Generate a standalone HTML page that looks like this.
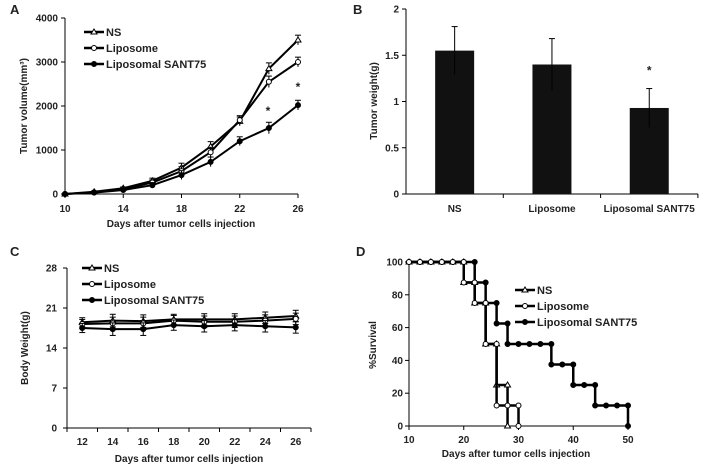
<!DOCTYPE html>
<html><head><meta charset="utf-8"><style>
body{margin:0;background:#fff;}
svg{display:block;font-family:"Liberation Sans",Arial,sans-serif;font-weight:bold;}
</style></head><body>
<svg id="s" width="701" height="467" viewBox="0 0 701 467"></svg>
<script>
// Panel A data
const aDays=[10,12,14,16,18,20,22,24,26];
const aNS=[0,50,130,300,600,1080,1650,2850,3500];
const aLipo=[0,40,110,260,520,950,1680,2550,3000];
const aSANT=[0,30,90,200,430,730,1200,1500,2020];
const aErr=[0,20,30,60,100,110,100,130,110];
const aTicksY=[0,1000,2000,3000,4000];
const aTicksX=[10,14,18,22,26];
// Panel B
const bCats=["NS","Liposome","Liposomal SANT75"];
const bVals=[1.55,1.40,0.93];
const bErr=[0.26,0.28,0.21];
const bTicksY=[0,0.5,1,1.5,2];
// Panel C
const cDays=[12,14,16,18,20,22,24,26];
const cNS=[18.5,18.8,18.7,19.0,19.0,19.0,19.3,19.6];
const cLipo=[18.2,18.3,18.3,18.8,18.6,18.6,18.8,19.1];
const cSANT=[17.5,17.3,17.3,18.0,17.8,18.0,17.8,17.6];
const cErr=[0.8,1.1,1.1,0.9,1.0,1.0,1.0,1.0];
const cTicksY=[0,7,14,21,28];
// Panel D
const dDays=[10,12,14,16,18,20,22,24,26,28,30,32,34,36,38,40,42,44,46,48,50];
const dNS=[100,100,100,100,100,87.5,75,50,25,0];
const dLipo=[100,100,100,100,100,87.5,75,50,12.5,12.5,0];
const dSANT=[100,100,100,100,100,100,87.5,75,62.5,50,50,50,50,37.5,37.5,25,25,12.5,12.5,12.5,0];
const dTicksY=[0,20,40,60,80,100];
const dTicksX=[10,20,30,40,50];

const S=document.getElementById('s');const NS='http://www.w3.org/2000/svg';
function el(t,a,name,txt){const e=document.createElementNS(NS,t);for(const k in a)e.setAttribute(k,a[k]);


if(txt!==undefined)e.textContent=txt;S.appendChild(e);return e;}
function line(x1,y1,x2,y2,n,w){return el('line',{x1,y1,x2,y2,stroke:'#000','stroke-width':w||1},n);}
function text(x,y,s,n,o){o=o||{};return el('text',Object.assign({x,y,'font-size':o.fs||10,'text-anchor':o.a||'middle',fill:'#222'},o.extra||{}),n,s);}
function marker(x,y,type,n){
 if(type==='tri')return el('path',{d:`M${x},${y-3}L${x+3},${y+2}L${x-3},${y+2}Z`,fill:'#fff',stroke:'#000','stroke-width':1},n);
 return el('circle',{cx:x,cy:y,r:2.5,fill:type==='open'?'#fff':'#000',stroke:'#000','stroke-width':1},n);}
function poly(pts,n,w){return el('polyline',{points:pts.map(p=>p.join(',')).join(' '),fill:'none',stroke:'#000','stroke-width':w||2},n);}
function legend(x,y,dy,n){const items=[['NS','tri'],['Liposome','open'],['Liposomal SANT75','fill']];
 items.forEach((it,i)=>{const yy=y+i*dy;line(x,yy,x+20,yy,'legend-line-'+i,2.5);marker(x+10,yy,it[1],'legend-marker-'+i);
 text(x+22,yy+4,it[0],'legend-label-'+i,{a:'start',fs:11});});}

// ---- Panel A
{const X=d=>65+(d-10)*(233/16),Y=v=>194-v*(176/4000);
text(10,14,'A','panel-a-label',{fs:13,a:'start'});
line(65,18,65,194,'a-y-axis');line(65,194,298,194,'a-x-axis');
aTicksY.forEach(v=>{line(61,Y(v),65,Y(v),'a-y-tick');text(58,Y(v)+3.5,v,'a-y-tick-label',{a:'end'});});
aTicksX.forEach(v=>{line(X(v),194,X(v),198,'a-x-tick');text(X(v),212,v,'a-x-tick-label');});
text(181,227,'Days after tumor cells injection','a-x-axis-title');
el('text',{x:0,y:0,transform:'translate(27,106) rotate(-90)','font-size':10,'text-anchor':'middle',fill:'#222'},'a-y-axis-title','Tumor volume(mm³)');
[[aNS,'tri'],[aLipo,'open'],[aSANT,'fill']].forEach((s,si)=>{
 s[0].forEach((v,i)=>{const x=X(aDays[i]);line(x,Y(v+aErr[i]),x,Y(v-aErr[i]),'a-error-bar');line(x-3,Y(v+aErr[i]),x+3,Y(v+aErr[i]),'a-error-cap');});
 poly(s[0].map((v,i)=>[X(aDays[i]),Y(v)]),'a-series-'+si);
 s[0].forEach((v,i)=>marker(X(aDays[i]),Y(v),s[1],'a-point'));});
text(268,115,'*','a-sig-star',{fs:12});text(298,91,'*','a-sig-star',{fs:12});
legend(84,32,16,'a-legend');}

// ---- Panel B
{const bw=97.3,Y=v=>194-v*92.5;
text(353,14,'B','panel-b-label',{fs:13,a:'start'});
line(406,9,406,194,'b-y-axis');line(406,194,698,194,'b-x-axis');
bTicksY.forEach(v=>{line(402,Y(v),406,Y(v),'b-y-tick');text(399,Y(v)+3.5,v,'b-y-tick-label',{a:'end'});});
bCats.forEach((c,i)=>{const cx=406+bw*(i+0.5);line(406+bw*(i+1),194,406+bw*(i+1),198,'b-x-tick');
 el('rect',{x:cx-19.5,y:Y(bVals[i]),width:39,height:194-Y(bVals[i]),fill:'#111'},'bar-'+i);
 line(cx,Y(bVals[i]+bErr[i]),cx,Y(bVals[i]-bErr[i]),'b-error-bar');line(cx-3,Y(bVals[i]+bErr[i]),cx+3,Y(bVals[i]+bErr[i]),'b-error-cap');
 text(cx,212,c,'b-x-tick-label');});
text(406+bw*2.5,Y(bVals[2]+bErr[2])-14,'*','b-sig-star',{fs:12});
el('text',{x:0,y:0,transform:'translate(377,101) rotate(-90)','font-size':10,'text-anchor':'middle',fill:'#222'},'b-y-axis-title','Tumor weight(g)');}

// ---- Panel C
{const cw=30.5,X=i=>67+cw*(i+0.5),Y=v=>428-v*(160/28);
text(10,256,'C','panel-c-label',{fs:13,a:'start'});
line(67,268,67,428,'c-y-axis');line(67,428,311,428,'c-x-axis');
cTicksY.forEach(v=>{line(63,Y(v),67,Y(v),'c-y-tick');text(57,Y(v)+3.5,v,'c-y-tick-label',{a:'end'});});
for(let i=0;i<=cDays.length;i++)line(67+cw*i,428,67+cw*i,432,'c-x-tick');
cDays.forEach((d,i)=>text(X(i),445,d,'c-x-tick-label'));
text(189,462,'Days after tumor cells injection','c-x-axis-title');
el('text',{x:0,y:0,transform:'translate(28,348) rotate(-90)','font-size':10,'text-anchor':'middle',fill:'#222'},'c-y-axis-title','Body Weight(g)');
[[cNS,'tri'],[cLipo,'open'],[cSANT,'fill']].forEach((s,si)=>{
 s[0].forEach((v,i)=>{const x=X(i);line(x,Y(v+cErr[i]),x,Y(v-cErr[i]),'c-error-bar');line(x-3,Y(v+cErr[i]),x+3,Y(v+cErr[i]),'c-error-cap');line(x-3,Y(v-cErr[i]),x+3,Y(v-cErr[i]),'c-error-cap');});
 poly(s[0].map((v,i)=>[X(i),Y(v)]),'c-series-'+si);
 s[0].forEach((v,i)=>marker(X(i),Y(v),s[1],'c-point'));});
legend(82,268,16,'c-legend');}

// ---- Panel D
{const X=d=>409+(d-10)*(219/40),Y=v=>426-v*1.64;
text(356,256,'D','panel-d-label',{fs:13,a:'start'});
line(409,262,409,426,'d-y-axis');line(409,426,630,426,'d-x-axis');
dTicksY.forEach(v=>{line(405,Y(v),409,Y(v),'d-y-tick');text(403,Y(v)+3.5,v,'d-y-tick-label',{a:'end'});});
dTicksX.forEach(v=>{line(X(v),426,X(v),430,'d-x-tick');text(X(v),443,v,'d-x-tick-label');});
text(516,457,'Days after tumor cells injection','d-x-axis-title');
el('text',{x:0,y:0,transform:'translate(376,345) rotate(-90)','font-size':10,'text-anchor':'middle',fill:'#222'},'d-y-axis-title','%Survival');
function steps(vals,type,n){const pts=[];const mk=[];
 vals.forEach((v,i)=>{const x=X(dDays[i]);if(i>0&&v!==vals[i-1]){pts.push([x,Y(vals[i-1])]);mk.push([x,Y(vals[i-1])]);}pts.push([x,Y(v)]);mk.push([x,Y(v)]);});
 poly(pts,n,2.5);mk.forEach(p=>marker(p[0],p[1],type,n+'-point'));}
steps(dSANT,'fill','d-series-sant75');steps(dNS,'tri','d-series-ns');steps(dLipo,'open','d-series-liposome');
legend(515,290,16,'d-legend');}
</script>
</body></html>
